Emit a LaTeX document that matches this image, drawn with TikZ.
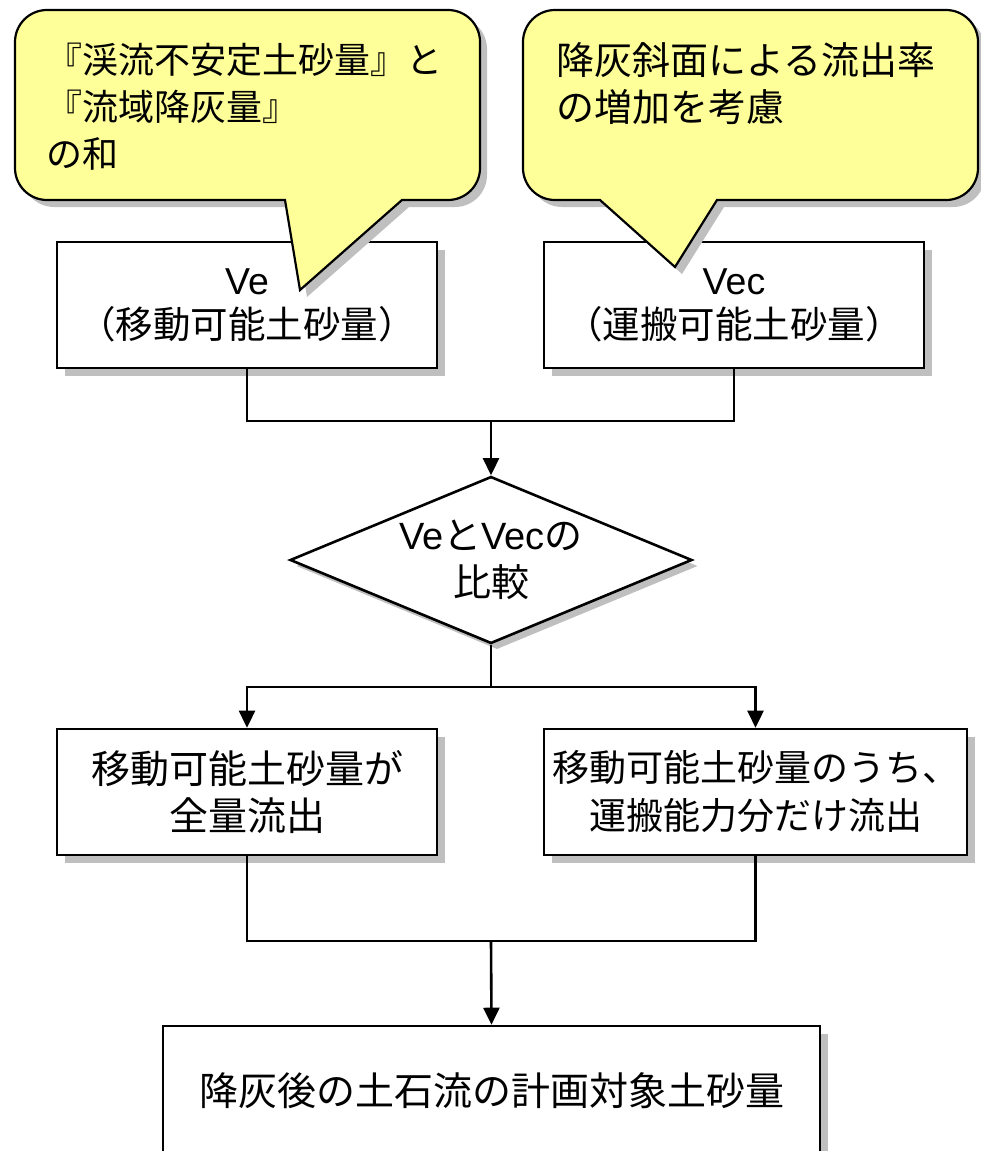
\documentclass[tikz,border=0pt]{standalone}
\usepackage{fontspec}
\setmainfont{Noto Sans CJK JP}
\newfontfamily\lat{Liberation Sans}
\usetikzlibrary{arrows.meta,shapes.geometric,shadows}
\definecolor{callfill}{HTML}{FFFF99}
\definecolor{shadowgray}{HTML}{BFBFBF}
\newcommand\fsA{\fontsize{36pt}{47pt}\selectfont}
\newcommand\fsB{\fontsize{37.5pt}{44pt}\selectfont}
\newcommand\fsC{\fontsize{39pt}{47pt}\selectfont}
\newcommand\fsD{\fontsize{37pt}{48pt}\selectfont}
\newcommand\fsE{\fontsize{38pt}{47pt}\selectfont}
\begin{document}
\begin{tikzpicture}[x=1pt,y=1pt,line width=2.6pt,
  boxshadow/.style={drop shadow={shadow xshift=8pt,shadow yshift=-8pt,fill=shadowgray,opacity=1}},
  box/.style={draw=black,fill=white,minimum width=380pt,minimum height=126pt,inner sep=0pt,align=center,font=\fsC,boxshadow},
  dia/.style={shape=diamond,draw=black,fill=white,aspect=2.4,minimum width=402pt,minimum height=167pt,inner sep=0pt,align=center,font=\fsE,drop shadow={shadow xshift=6pt,shadow yshift=-6pt,fill=shadowgray,opacity=1}},
  arr/.style={-{Triangle[length=17pt,width=16pt]}},
  calltext/.style={anchor=north west,inner sep=0pt,align=left,font=\fsA},
  leftcallpath/.style={insert path={(285,-200) -- (300,-290) -- (402,-200) -- (448,-200) arc[start angle=270,end angle=360,radius=32pt] -- (480,-42) arc[start angle=0,end angle=90,radius=32pt] -- (47,-10) arc[start angle=90,end angle=180,radius=32pt] -- (15,-168) arc[start angle=180,end angle=270,radius=32pt] -- cycle}},
  rightcallpath/.style={insert path={(600,-200) -- (675,-267) -- (717,-200) -- (946,-200) arc[start angle=270,end angle=360,radius=32pt] -- (978,-42) arc[start angle=0,end angle=90,radius=32pt] -- (555,-10) arc[start angle=90,end angle=180,radius=32pt] -- (523,-168) arc[start angle=180,end angle=270,radius=32pt] -- cycle}}
]
\useasboundingbox (0,0) rectangle (981,-1151);
\clip (0,0) rectangle (981,-1151);

% boxes
\node[box,font=\fsB] (ve) at (247,-305) {{\lat Ve}\\（移動可能土砂量）};
\node[box,font=\fsB] (vec) at (734,-305) {{\lat Vec}\\（運搬可能土砂量）};
\node[dia] (cmp) at (491,-560) {{\lat Ve}と{\lat Vec}の\\比較};
\node[box,font=\fsC] (all) at (247,-792) {移動可能土砂量が\\全量流出};
\node[box,font=\fsD,minimum width=423pt] (part) at (755.5,-792) {移動可能土砂量のうち、\\運搬能力分だけ流出};
\node[box,font=\fsC,minimum width=657pt,minimum height=130pt] (res) at (491.5,-1091) {降灰後の土石流の計画対象土砂量};

% connectors
\coordinate (j1) at (491,-421);
\coordinate (j2) at (491,-687);
\coordinate (j3) at (491,-941);
\draw (ve.south) |- (j1) -| (vec.south);
\draw[arr] (j1) -- (cmp.north);
\draw (cmp.south) -- (j2);
\draw[arr] (j2) -| (all.north);
\draw[arr] (j2) -| (part.north);
\draw (all.south) |- (j3) -| (part.south);
\draw[arr] (j3) -- (res.north);

% callouts
\fill[shadowgray,shift={(7pt,-7pt)},leftcallpath];
\path[draw=black,fill=callfill,line width=2.2pt,line join=miter,leftcallpath];
\fill[shadowgray,shift={(7pt,-7pt)},rightcallpath];
\path[draw=black,fill=callfill,line width=2.2pt,line join=miter,rightcallpath];
\node[calltext] (lt) at (45,-42) {『渓流不安定土砂量』と\\『流域降灰量』\\の和};
\node[calltext,font=\fsE] (rt) at (555,-41) {降灰斜面による流出率\\の増加を考慮};
\end{tikzpicture}
\end{document}
